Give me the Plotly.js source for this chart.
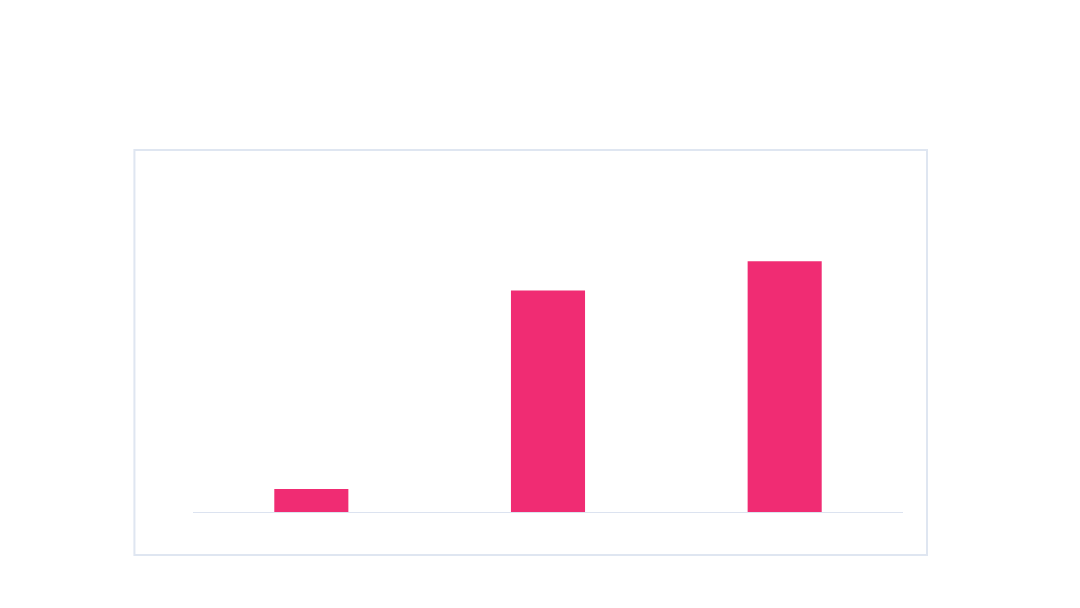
<!DOCTYPE html>
<html>
<head>
<meta charset="utf-8">
<script src="https://cdn.plot.ly/plotly-3.0.1.min.js"></script>
<style>html,body{margin:0;padding:0;background:#fff;}#chart{width:1080px;height:608px;}</style>
</head>
<body>
<div id="chart"></div>
<script>
const categories = ["A", "B", "C"];
const values = [9.2, 88.3, 100];

const trace = {
  type: "bar",
  x: categories,
  y: values,
  marker: {color: "#f02c73"},
  hoverinfo: "none"
};

const layout = {
  width: 1080,
  height: 608,
  margin: {l: 193, r: 177, t: 248, b: 96},
  paper_bgcolor: "#ffffff",
  plot_bgcolor: "#ffffff",
  showlegend: false,
  bargap: 0.687,
  xaxis: {
    showticklabels: false,
    showgrid: false,
    zeroline: false,
    showline: true,
    linecolor: "#dce3f0",
    linewidth: 1,
    ticks: ""
  },
  yaxis: {
    range: [0, 105.3],
    showticklabels: false,
    showgrid: false,
    zeroline: false,
    showline: false,
    ticks: ""
  },
  shapes: [{
    type: "rect",
    xref: "paper", yref: "paper",
    x0: -0.0825, x1: 1.0338,
    y0: -0.163, y1: 1.371,
    line: {color: "#dfe6f1", width: 2},
    fillcolor: "rgba(0,0,0,0)",
    layer: "below"
  }]
};

Plotly.newPlot("chart", [trace], layout, {displayModeBar: false, staticPlot: true});
</script>
</body>
</html>
